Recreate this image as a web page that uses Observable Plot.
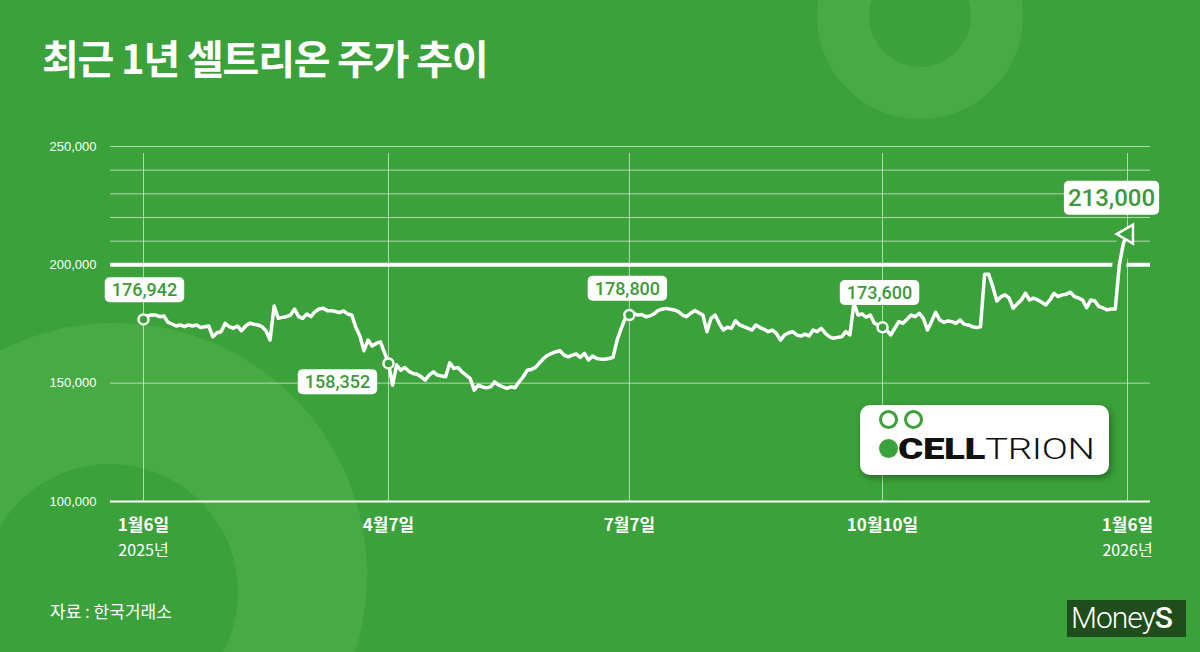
<!DOCTYPE html>
<html>
<head>
<meta charset="utf-8">
<script src="https://cdn.jsdelivr.net/npm/d3@7"></script>
<script src="https://cdn.jsdelivr.net/npm/@observablehq/plot@0.6"></script>
<style>
  html, body { margin: 0; padding: 0; background: #3ba13a; }
  #wrap { position: relative; width: 1200px; height: 652px; overflow: hidden; background: #3ba13a;
          font-family: "Noto Sans CJK KR", "Noto Sans", sans-serif; color: #fff; }
  .deco { position: absolute; border-radius: 50%; }
  #title { position: absolute; left: 42px; top: 37px; font-size: 40px; font-weight: 700; line-height: 1;
           letter-spacing: -1.2px; white-space: nowrap; }
  #chart { position: absolute; left: 0; top: 110px; }
  #source { position: absolute; left: 50px; top: 602px; font-size: 17px; line-height: 1; letter-spacing: 0px; }
  #logo { position: absolute; left: 860px; top: 405px; width: 249px; height: 70px; background: #fff; border-radius: 10px;
          box-shadow: 2px 3px 7px rgba(0,0,0,0.35); }
  #logo .ring { position: absolute; width: 13px; height: 13px; border: 3px solid #3ba13a; border-radius: 50%; }
  #logo .disc { position: absolute; width: 19px; height: 19px; background: #3ba13a; border-radius: 50%; }
  #logo .txt { position: absolute; left: 38px; top: 30px; font-family: Roboto, "Liberation Sans", sans-serif; font-size: 29px;
               line-height: 1; color: #111; letter-spacing: -0.3px; white-space: nowrap;
               transform: scaleX(1.33); transform-origin: 0 0; }
  #logo .txt b { font-weight: 900; }
  #logo .txt span { font-weight: 300; }
  #moneys { position: absolute; left: 1067px; top: 600px; width: 119px; height: 37px; background: #1f4d1c; }
  #moneys span { position: absolute; left: 4px; top: 3px; font-family: Roboto, "Liberation Sans", sans-serif; font-size: 30px;
                 line-height: 1; font-weight: 300; color: #fff; letter-spacing: -1px; white-space: nowrap; }
  #moneys b { font-weight: 500; }
</style>
</head>
<body>
<div id="wrap">
  <div class="deco" style="left:-137px;top:323px;width:504px;height:504px;background:#48aa45;"></div>
  <div class="deco" style="left:-18px;top:464px;width:256px;height:256px;background:#3ba13a;"></div>
  <div class="deco" style="left:817px;top:-87px;width:206px;height:206px;background:#48aa45;"></div>
  <div class="deco" style="left:869px;top:-35px;width:102px;height:102px;background:#3ba13a;"></div>

  <div id="title">최근 1년 셀트리온 주가 추이</div>
  <div id="chart"></div>
  <div id="source">자료 : 한국거래소</div>

  <div id="logo">
    <div class="ring" style="left:19px;top:5px;"></div>
    <div class="ring" style="left:44px;top:5px;"></div>
    <div class="disc" style="left:19px;top:34px;"></div>
    <div class="txt"><b>CELL</b><span>TRION</span></div>
  </div>
  <div id="moneys"><span>Money<b>S</b></span></div>
</div>

<script>
// Daily closing prices (KRW), trading days from 2025-01-06 to 2026-01-06
const prices = [
  176942, 178500, 178800, 178800, 178100, 178400, 175700, 175000, 174150, 174600,
  173850, 174600, 174150, 174600, 173450, 173850, 174150, 169600, 171300, 171750,
  175300, 173850, 173200, 174150, 172150, 174150, 175300, 174900, 174600, 173850,
  172150, 168200, 182600, 177400, 177800, 178100, 178800, 181250, 178100, 177400,
  179250, 178100, 180200, 181350, 181650, 180650, 180650, 180300, 179800, 180500,
  179250, 178800, 173600, 169900, 163700, 168200, 165700, 166800, 167500, 163000,
  158352,
  149150, 157650, 155500, 156600, 155000, 154100, 153800, 152700, 151300, 153500,
  154800, 153400, 153000, 152700, 158600, 156250, 156650, 154800, 153400, 152000,
  147050, 149150, 148450, 148000, 148450, 150550, 149200, 148450, 147750, 148450,
  148100, 150550, 152700, 155500, 155800, 156650, 158600, 160450, 161800, 162600,
  163300, 163700, 161850, 161150, 161850, 162300, 160900, 162600, 159750, 161450,
  160450, 160150, 160150, 160400, 160900, 168200, 173200, 177400,
  178800,
  179550, 178800, 179000, 178100, 178400, 179250, 180650, 181250, 181600, 181250,
  180950, 180200, 178800, 178100, 179550, 180650, 179800, 178800, 171750, 177400,
  178800, 175300, 172450, 173600, 173200, 176400, 174600, 173850, 173200, 172450,
  174600, 173500, 172750, 171750, 172450, 171050, 168200, 170350, 171300, 171750,
  170350, 169900, 170750, 169900, 172450, 171750, 173200, 171050, 169600, 168950,
  169350, 169600, 171750, 170350, 183750, 178800, 179250, 177850, 178800, 175300,
  174600,
  173600,
  172450, 170350, 173200, 176000, 175300, 177000, 178800, 178100, 179550, 177400,
  172450, 176000, 179950, 176700, 175700, 176300, 176000, 175300, 176700, 174850,
  174600, 173850, 173450, 173850, 196050, 196050, 190800, 184750, 186550, 187300,
  185900, 181650, 183500, 185150, 188000, 185150, 185900, 185150, 184200, 183050,
  185150, 188000, 186550, 187300, 187600, 188450, 186550, 186000, 185150, 181900,
  185150, 184750, 182350, 181800, 180950, 181350, 181350, 200000, 209200, 213000
];

// x-axis ticks (trading-day index) and their labels
const tickIndex = [0, 60, 119, 181, 241];
const tickDates = ["1월6일", "4월7일", "7월7일", "10월10일", "1월6일"];
const tickYears = ["2025년", "", "", "", "2026년"];

// y-axis
const yTickValues = [100000, 150000, 200000, 250000];
const thinGridValues = [150000, 210000, 220000, 230000, 240000, 250000];
const thickGridValues = [200000];
const baseValue = [100000];

// annotated points
const calloutIndex = [0, 60, 119, 181];
const lastIndex = prices.length - 1;

const GREEN = "#3ba13a";
const LABEL_GREEN = "#3d9a3a";
const LABEL_FONT = "Roboto, Liberation Sans, Arial, sans-serif";
const data = prices.map((v, i) => ({i, v}));
const fmt = d3.format(",");

// label offsets (style only)
const offsets = [[1, -29], [-51, 19], [-2, -26], [-3, -34]];

const calloutMarks = calloutIndex.map((idx, k) =>
  Plot.text([data[idx]], {
    x: "i", y: "v", text: d => fmt(d.v),
    dx: offsets[k][0], dy: offsets[k][1],
    fill: LABEL_GREEN, fontSize: 18, fontWeight: 500, fontFamily: LABEL_FONT,
    textAnchor: "middle", lineAnchor: "middle"
  })
);

const chart = Plot.plot({
  width: 1200,
  height: 480,
  marginTop: 36,
  marginBottom: 89,
  marginLeft: 110,
  marginRight: 50,
  style: {background: "transparent", overflow: "visible", fontFamily: "Liberation Sans, Arial, sans-serif"},
  x: {type: "linear", domain: [-8.08, 246.63], axis: null},
  y: {domain: [100000, 250000]},
  marks: [
    Plot.ruleY(thinGridValues, {stroke: "white", strokeOpacity: 0.6, strokeWidth: 1}),
    Plot.ruleX(tickIndex, {y1: 100000, y2: 250000, stroke: "white", strokeOpacity: 0.6, strokeWidth: 1, insetBottom: -7}),
    Plot.ruleY(baseValue, {stroke: "white", strokeWidth: 1.8}),
    Plot.ruleY(thickGridValues, {stroke: "white", strokeWidth: 4}),
    Plot.axisY(yTickValues, {
      tickSize: 0, tickPadding: 14, tickFormat: fmt, fontSize: 13, fill: "white",
      fontFamily: "Liberation Sans, Arial, sans-serif", label: null
    }),
    Plot.line(data.slice(-4), {x: "i", y: "v", stroke: GREEN, strokeWidth: 14, strokeLinejoin: "round"}),
    Plot.line(data, {x: "i", y: "v", stroke: "white", strokeWidth: 3.5, strokeLinejoin: "round", strokeLinecap: "round"}),
    Plot.dot(data.filter(d => calloutIndex.includes(d.i)), {x: "i", y: "v", r: 5, stroke: "white", strokeWidth: 2.5, fill: GREEN}),
    Plot.dot([data[lastIndex]], {x: "i", y: "v", symbol: "triangle", r: 7, rotate: -90, stroke: "white", strokeWidth: 2.5, fill: GREEN}),
    ...calloutMarks,
    Plot.text([data[lastIndex]], {
      x: "i", y: "v", text: d => fmt(d.v), dx: -16, dy: -36,
      fill: LABEL_GREEN, fontSize: 24, fontWeight: 500, fontFamily: LABEL_FONT,
      textAnchor: "middle", lineAnchor: "middle"
    }),
    Plot.text(tickIndex.map((idx, k) => ({i: idx, t: tickDates[k]})), {
      x: "i", text: "t", frameAnchor: "bottom", dy: 24, fill: "white", fontSize: 17, fontWeight: 700,
      fontFamily: "Noto Sans CJK KR, sans-serif", textAnchor: "middle", lineAnchor: "middle"
    }),
    Plot.text(tickIndex.map((idx, k) => ({i: idx, t: tickYears[k]})).filter(d => d.t), {
      x: "i", text: "t", frameAnchor: "bottom", dy: 49, fill: "white", fontSize: 16,
      fontFamily: "Noto Sans CJK KR, sans-serif", textAnchor: "middle", lineAnchor: "middle"
    })
  ]
});

document.getElementById("chart").append(chart);

// white rounded boxes behind the value labels (groups filled with the label green)
chart.querySelectorAll("g").forEach(g => {
  if ((g.getAttribute("fill") || "").toLowerCase() !== LABEL_GREEN) return;
  const big = g.getAttribute("font-size") === "24";
  g.querySelectorAll("text").forEach(t => {
    const b = t.getBBox();
    const px = big ? 4 : 7, py = big ? 3 : 2;
    const r = document.createElementNS("http://www.w3.org/2000/svg", "rect");
    r.setAttribute("x", b.x - px);
    r.setAttribute("y", b.y - py);
    r.setAttribute("width", b.width + 2 * px);
    r.setAttribute("height", b.height + 2 * py);
    r.setAttribute("rx", 5);
    r.setAttribute("fill", "white");
    const tr = t.getAttribute("transform");
    if (tr) r.setAttribute("transform", tr);
    t.parentNode.insertBefore(r, t);
  });
});
</script>
</body>
</html>
